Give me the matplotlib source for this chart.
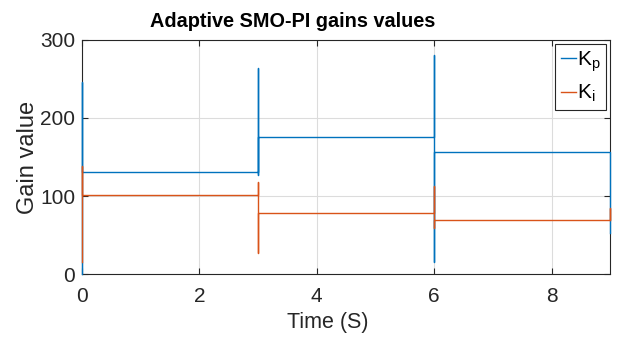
import numpy as np
import matplotlib.pyplot as plt

plt.rcParams['font.family'] = ['Liberation Sans', 'DejaVu Sans']
plt.rcParams['mathtext.fontset'] = 'custom'
plt.rcParams['mathtext.rm'] = 'Liberation Sans'

# 时间与增益（阶跃切换时刻 0, 3, 6, 9 s，含切换瞬间的尖峰）
t_kp = [0, 0, 0, 3, 3, 3, 3, 6, 6, 6, 6, 9, 9]
kp = [0, 246, 131, 131, 264, 127, 176, 176, 280, 15, 156, 156, 53]

t_ki = [0, 0, 0, 3, 3, 3, 3, 6, 6, 6, 6, 9, 9, 9]
ki = [15, 138, 101, 101, 118, 27, 78, 78, 113, 59, 69, 69, 85, 69]

x_ticks = [0, 2, 4, 6, 8]
y_ticks = [0, 100, 200, 300]

fig = plt.figure(figsize=(6.17, 3.38), dpi=100)
ax = fig.add_axes([0.133, 0.189, 0.856, 0.693])

ax.plot(t_kp, kp, color="#0072BD", linewidth=1.0, label=r"$\mathregular{K_p}$",
        clip_on=False, zorder=3)
ax.plot(t_ki, ki, color="#D95319", linewidth=1.0, label=r"$\mathregular{K_i}$",
        clip_on=False, zorder=3)

ax.set_xlim(0, 9)
ax.set_ylim(0, 300)
ax.set_xticks(x_ticks)
ax.set_yticks(y_ticks)
ax.grid(True, color="#dcdcdc", linewidth=0.8)
ax.tick_params(direction="in", top=True, right=True, labelsize=15,
               colors="#262626", length=4)
ax.tick_params(axis="x", pad=9)
ax.tick_params(axis="y", pad=5)
for s in ax.spines.values():
    s.set_color("#262626")
    s.set_linewidth(0.8)

ax.set_xlabel("Time (S)", fontsize=15.5, color="#262626")
ax.xaxis.set_label_coords(0.466, -0.163)
ax.set_ylabel("Gain value", fontsize=17, color="#262626", labelpad=1)
ax.set_title("Adaptive SMO-PI gains values", fontsize=14.3, fontweight="bold",
             pad=9, x=0.398)

leg = ax.legend(loc="upper right", fontsize=15, handlelength=0.75, handletextpad=0.05,
                borderpad=0.25, labelspacing=0.45, fancybox=False, framealpha=1,
                borderaxespad=0.2)
leg.get_frame().set_edgecolor("#262626")
leg.get_frame().set_linewidth(0.8)

fig.savefig("out.png", dpi=100)
